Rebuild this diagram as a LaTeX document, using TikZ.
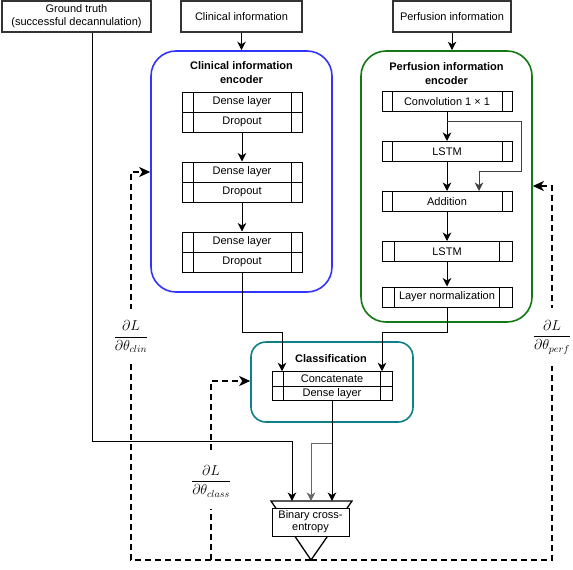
\documentclass[tikz,border=0pt]{standalone}
\usepackage{fontspec}
\setmainfont{Liberation Sans}
\usetikzlibrary{arrows.meta,calc}
\definecolor{encblue}{RGB}{51,51,255}
\definecolor{encgreen}{RGB}{20,120,20}
\definecolor{encteal}{RGB}{14,128,136}
\tikzset{
  divinset/.store in=\divinset, divinset=11pt,
  topbox/.style={draw=black!80, line width=1.6pt, inner sep=0pt, align=center,
    font=\fontsize{11}{13}\selectfont},
  layer/.style={draw=black, line width=1pt, inner sep=0pt, minimum height=20pt,
    minimum width=120pt, font=\fontsize{11}{13}\selectfont,
    path picture={
      \draw[line width=1pt] ([xshift=\divinset]path picture bounding box.north west) -- ([xshift=\divinset]path picture bounding box.south west);
      \draw[line width=1pt] ([xshift=-\divinset]path picture bounding box.north east) -- ([xshift=-\divinset]path picture bounding box.south east);
    }},
  enc/.style={draw, line width=1.6pt, rounded corners=25pt, inner sep=0pt},
  title/.style={font=\fontsize{11}{14}\selectfont\bfseries, align=center, inner sep=0pt},
  arr/.style={-{Stealth[length=8.5pt,width=8.5pt,inset=2.5pt]}, line width=1pt},
  fb/.style={dash pattern=on 6pt off 4pt, line width=2pt,
    -{Stealth[length=11pt,width=10pt,inset=3pt]}},
  lbl/.style={fill=white, inner xsep=0pt, inner ysep=12pt, font=\fontsize{14}{16}\selectfont},
}
\begin{document}
\begin{tikzpicture}[x=1pt,y=-1pt]
\useasboundingbox (0,0) rectangle (573,570);

% top inputs
\node[topbox, minimum width=149pt, minimum height=31pt] (gt) at (76.5,16.5) {Ground truth\\(successful decannulation)};
\node[topbox, minimum width=121pt, minimum height=31pt] (ci) at (241.5,16.5) {Clinical information};
\node[topbox, minimum width=118pt, minimum height=31pt] (pi) at (452,16.5) {Perfusion information};

% encoders
\node[enc, draw=encblue, minimum width=181pt, minimum height=241pt] (encc) at (241.5,171.5) {};
\node[title] (tc) at (241.5,73) {Clinical information\\encoder};
\node[enc, draw=encgreen, minimum width=171pt, minimum height=271pt] (enp) at (446.5,186.5) {};
\node[title] (tp) at (446.5,73.5) {Perfusion information\\encoder};
\node[enc, draw=encteal, rounded corners=15pt, minimum width=162pt, minimum height=80pt] (encl) at (332,382) {};
\node[title] (tl) at (331,359) {Classification};

% clinical layers
\node[layer] (d1) at (242,102) {Dense layer};
\node[layer] (o1) at (242,122) {Dropout};
\node[layer] (d2) at (242,172) {Dense layer};
\node[layer] (o2) at (242,192) {Dropout};
\node[layer] (d3) at (242,242) {Dense layer};
\node[layer] (o3) at (242,262) {Dropout};

% perfusion layers
\node[layer, minimum width=130pt, divinset=10pt] (conv) at (447,101.5) {Convolution 1 × 1};
\node[layer, minimum width=130pt, divinset=10pt] (lstma) at (447,151.5) {LSTM};
\node[layer, minimum width=130pt, divinset=10pt] (add) at (447,201.5) {Addition};
\node[layer, minimum width=130pt, divinset=12.5pt] (lstmb) at (447,251.5) {LSTM};
\node[layer, minimum width=130pt, divinset=12.5pt] (ln) at (447,297) {Layer normalization};

% classification layers
\node[layer, minimum height=14.5pt, divinset=11.5pt] (concat) at (332,379) {Concatenate};
\node[layer, minimum height=14.5pt, divinset=11.5pt] (dense) at (332,393.5) {Dense layer};

% loss
\coordinate (tlft) at (271,501);
\coordinate (trgt) at (352,501);
\coordinate (apex) at (311,560);
\draw[line width=1.3pt] (tlft) -- (trgt) -- (apex) -- cycle;
\node[draw, line width=1pt, fill=white, minimum width=77pt, minimum height=28pt, inner sep=0pt,
  align=center, font=\fontsize{11}{12}\selectfont] (bce) at (310.5,522) {Binary cross-\\entropy};
\coordinate (gtin) at (292,501);
\coordinate (brin) at (311,501);
\coordinate (clin) at (332,501);

% solid connectors
\draw[arr] (ci.south) -- (encc.north);
\draw[arr] (pi.south) -- (pi.south |- enp.north);
\draw[arr] (o1.south) -- (d2.north);
\draw[arr] (o2.south) -- (d3.north);
\draw[arr] (conv.south) -- (lstma.north);
\draw[arr, black!75] ([yshift=-9.5pt]conv.south) -- ++(74,0) -- ++(0,50) -- ++(-42,0) -- ([xshift=32pt]add.north);
\draw[arr] (lstma.south) -- (add.north);
\draw[arr] (add.south) -- (lstmb.north);
\draw[arr] (lstmb.south) -- (ln.north);
\draw[arr] (o3.south) -- ++(0,60) -| ([xshift=-50pt]concat.north);
\draw[arr] (ln.south) -- ++(0,25) -| ([xshift=50pt]concat.north);
\draw[arr] (dense.south) -- (clin);
\draw[arr, black!60] ([yshift=-42.5pt]dense.south) -| (brin);
\draw[arr] ([xshift=15.5pt]gt.south) |- ([yshift=60pt]gtin) -- (gtin);

% gradient feedback
\coordinate (cb) at (211,560);
\draw[fb] (apex) -- (131,560) -- node[lbl, pos=0.576] (lclin) {$\displaystyle\frac{\partial L}{\partial\theta_{clin}}$} (131,172) -- (encc.west |- 131,172);
\draw[fb] (cb) -- node[lbl, pos=0.44] (lclass) {$\displaystyle\frac{\partial L}{\partial\theta_{class}}$} (211,381) -- (encl.west |- 211,381);
\draw[fb] (apex) -- (552,560) -- node[lbl, pos=0.596] (lperf) {$\displaystyle\frac{\partial L}{\partial\theta_{perf}}$} (552,186) -- (enp.east |- 552,186);
\end{tikzpicture}
\end{document}
